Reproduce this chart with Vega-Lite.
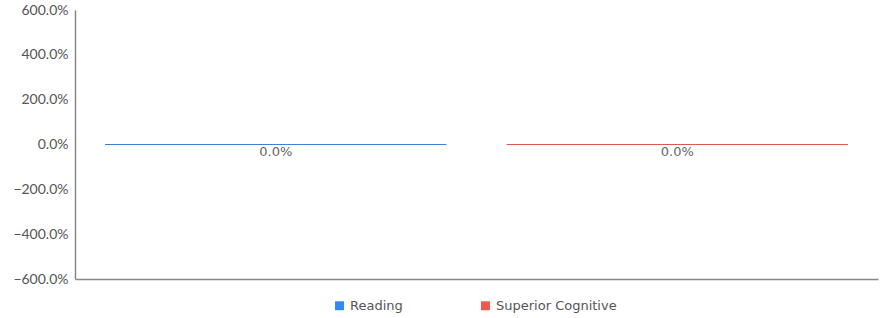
{
  "$schema": "https://vega.github.io/schema/vega-lite/v6.json",
  "width": 803,
  "height": 269,
  "autosize": {"type": "none"},
  "padding": {"left": 75, "top": 10, "right": 10, "bottom": 39},
  "background": "white",
  "config": {"view": {"stroke": null}},
  "data": {"values": [
    {"category": "Reading", "value": 0},
    {"category": "Superior Cognitive", "value": 0}
  ]},
  "encoding": {
    "x": {"field": "category", "type": "nominal", "sort": null,
      "scale": {"paddingInner": 0.15, "paddingOuter": 0.075},
      "axis": {"title": null, "labels": false, "ticks": false, "domainColor": "#888888", "domainWidth": 1.5}},
    "y": {"field": "value", "type": "quantitative",
      "scale": {"domain": [-6, 6], "nice": false, "zero": false},
      "axis": {"title": null, "format": ".1%", "values": [-6, -4, -2, 0, 2, 4, 6], "grid": false, "ticks": false,
        "domainColor": "#888888", "domainWidth": 1.5, "labelFont": "Lato", "labelFontSize": 14, "labelColor": "#555555", "labelPadding": 7}}
  },
  "layer": [
    {
      "mark": {"type": "bar", "strokeWidth": 1.2},
      "encoding": {
        "y2": {"datum": 0},
        "color": {"field": "category", "type": "nominal",
          "scale": {"domain": ["Reading", "Superior Cognitive"], "range": ["#2F88F5", "#EE5A4F"]},
          "legend": {"title": null, "orient": "none", "legendX": 258, "legendY": 289, "direction": "horizontal", "symbolType": "square", "symbolSize": 80,
            "labelFont": "DejaVu Sans", "labelFontSize": 13, "labelColor": "#555555", "columnPadding": 76, "symbolStrokeWidth": 0}},
        "stroke": {"field": "category", "type": "nominal",
          "scale": {"domain": ["Reading", "Superior Cognitive"], "range": ["#3A80DA", "#E2574C"]}, "legend": null}
      }
    },
    {
      "mark": {"type": "text", "dy": 7, "baseline": "middle", "font": "DejaVu Sans", "fontSize": 13, "color": "#666666"},
      "encoding": {"text": {"field": "value", "type": "quantitative", "format": ".1%"}}
    }
  ]
}
